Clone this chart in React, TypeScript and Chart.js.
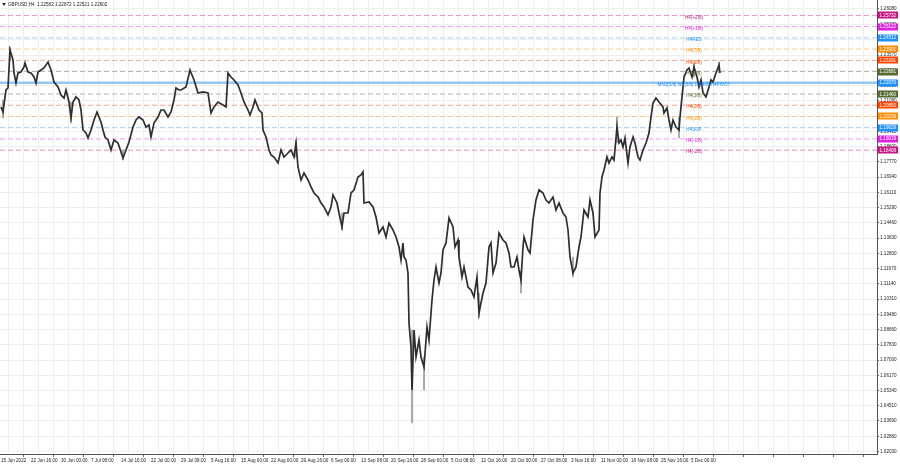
import React, { useEffect, useRef } from 'react';
import { Chart, registerables } from 'chart.js';

Chart.register(...registerables);

// ---- price path (H4 bar index -> close) ----
const barIndex = [0,2,5,7,9,12,13,15,17,20,23,24,27,30,33,35,37,40,43,47,50,53,57,60,63,65,68,70,72,75,78,80,82,85,87,90,93,96,98,100,102,104,107,110,113,117,120,122,125,128,132,135,138,142,145,148,150,153,157,160,163,167,170,173,175,178,180,185,189,193,197,202,207,210,213,217,222,225,227,230,233,237,240,243,247,249,252,254,258,261,262,265,268,270,273,277,280,283,287,290,293,295,297,300,303,307,310,313,317,320,323,327,330,332,336,338,341,343,347,350,353,357,360,362,363,368,372,375,378,382,385,388,392,395,398,400,402,403,405,407,408,410,411,413,415,418,420,423,426,428,431,433,435,438,440,442,445,448,452,454,457,458,461,463,467,470,473,476,478,482,485,488,490,492,495,498,502,505,508,510,513,516,518,520,522,523,527,529,532,535,538,542,545,548,552,555,558,562,565,567,569,572,575,578,580,583,587,589,592,594,598,599,601,603,606,608,611,613,616,618,620,622,624,627,629,632,634,637,639,642,645,648,650,652,655,658,662,663,666,668,670,672,675,678,679,681,683,686,688,691,693,696,698,700,702,705,708,710,712,715,718,719];

const closePrices = [1.20755,1.20483,1.21679,1.21787,1.23853,1.23309,1.22602,1.22059,1.22602,1.22657,1.22929,1.23146,1.22657,1.22602,1.22385,1.22059,1.22657,1.22766,1.22874,1.23200,1.22766,1.22113,1.21842,1.21407,1.21244,1.21679,1.21026,1.20157,1.21026,1.21298,1.21135,1.20592,1.19505,1.19341,1.19070,1.19505,1.20048,1.20483,1.20211,1.19939,1.19505,1.19124,1.18961,1.18418,1.18961,1.18798,1.18309,1.17983,1.18418,1.18852,1.19668,1.20048,1.20211,1.20048,1.19668,1.19776,1.19124,1.19885,1.20211,1.20592,1.20592,1.20211,1.20483,1.21135,1.21787,1.21679,1.21679,1.21842,1.22766,1.22222,1.21515,1.21570,1.21515,1.20428,1.20755,1.21026,1.20863,1.20755,1.22602,1.22385,1.22222,1.21950,1.21515,1.21026,1.20592,1.20320,1.20755,1.21135,1.20592,1.20428,1.19505,1.19124,1.18418,1.18146,1.18037,1.17711,1.18418,1.18037,1.18254,1.18418,1.18037,1.18798,1.17494,1.16787,1.17167,1.16787,1.16407,1.16080,1.15863,1.15537,1.15320,1.14885,1.15320,1.15972,1.15537,1.14993,1.14233,1.14993,1.14993,1.16080,1.16244,1.16950,1.17059,1.17222,1.15537,1.15591,1.15320,1.14776,1.13906,1.14233,1.13689,1.14450,1.14070,1.13689,1.13146,1.12439,1.13363,1.12602,1.12439,1.11732,1.09015,1.07711,1.05374,1.08635,1.07167,1.08090,1.07167,1.06624,1.08798,1.08090,1.10265,1.11352,1.12059,1.11189,1.11732,1.12983,1.13363,1.14722,1.14233,1.13146,1.13526,1.12602,1.11515,1.12059,1.10972,1.10809,1.10428,1.11515,1.09558,1.10645,1.11189,1.13146,1.13363,1.11732,1.12276,1.13906,1.13526,1.13363,1.12819,1.12059,1.12059,1.12602,1.11896,1.11352,1.13146,1.13689,1.12983,1.12819,1.14613,1.15700,1.16244,1.16080,1.15700,1.15537,1.15863,1.15157,1.15537,1.14993,1.14776,1.14070,1.12602,1.11732,1.12059,1.13146,1.13689,1.15157,1.14776,1.15700,1.14993,1.13689,1.14070,1.16080,1.16950,1.17331,1.18037,1.17711,1.18037,1.17874,1.19668,1.18798,1.18961,1.18581,1.19070,1.17711,1.18581,1.19124,1.18798,1.18037,1.17874,1.18418,1.18798,1.19341,1.20211,1.20972,1.21244,1.21026,1.20755,1.20428,1.20700,1.20048,1.19505,1.20048,1.19668,1.19505,1.20211,1.21298,1.22385,1.22766,1.22874,1.22385,1.22929,1.22385,1.21842,1.22222,1.21515,1.21298,1.21842,1.22222,1.22113,1.22602,1.23037,1.22602];

// notable wicks (bar index, low, high)
const wickBar = [2,9,70,122,295,341,411,423,478,520,572,616,678,693,718];
const wickLow = [1.20157,1.23309,1.19939,1.17874,1.18037,1.14070,1.03580,1.05374,1.09287,1.10645,1.11515,1.18798,1.19070,1.22385,1.22602];
const wickHigh = [1.21135,1.24016,1.21026,1.18418,1.18961,1.14993,1.08635,1.07167,1.10645,1.11896,1.12602,1.20211,1.20211,1.23146,1.23200];

// ---- axes ----
const priceTicks = [1.02030,1.02860,1.03690,1.04510,1.05340,1.06170,1.07000,1.07830,1.08660,1.09480,1.10310,1.11140,1.11970,1.12800,1.13630,1.14460,1.15290,1.16110,1.16940,1.17770,1.18600,1.19420,1.20250,1.21080,1.21910,1.22740,1.23570,1.24400,1.25230,1.26080];
const timeLabels = ['15 Jun 2022','22 Jun 16:00','30 Jun 00:00','7 Jul 08:00','14 Jul 16:00','22 Jul 00:00','29 Jul 08:00','5 Aug 16:00','15 Aug 00:00','22 Aug 00:00','29 Aug 16:00','6 Sep 00:00','13 Sep 08:00','20 Sep 16:00','28 Sep 00:00','5 Oct 08:00','12 Oct 16:00','20 Oct 00:00','27 Oct 08:00','3 Nov 16:00','11 Nov 00:00','18 Nov 08:00','25 Nov 16:00','5 Dec 00:00'];
const barsPerLabel = 30;
const barsPerGrid = 15;
const xMin = -1;
const xMax = 876;
const yMin = 1.01895;
const yMax = 1.26569;

// ---- Murrey levels ----
const levelNames = ['H4(+2/8)','H4(+1/8)','H4RES','H4(7/8)','H4(6/8)','H4(5/8)','MN1[5/8] W1[5/8] D1[4/8] H4PIVOT','H4(3/8)','H4(2/8)','H4(1/8)','H4SUP','H4(-1/8)','H4(-2/8)'];
const levelPrices = [1.25732,1.25122,1.24512,1.23901,1.23291,1.22681,1.22070,1.21460,1.20850,1.20239,1.19629,1.19019,1.18408];
const levelColors = ['#c71585','#e020e0','#1e90ff','#ff8c00','#ff4500','#556b2f','#1e90ff','#556b2f','#ff4500','#ff8c00','#1e90ff','#e020e0','#c71585'];
const levelLineColors = ['#ee8ec4','#f29af2','#a9cdf5','#fbc98e','#f7a58e','#b5b5a8','#93c8f3','#b5b5a8','#f7a58e','#fbc98e','#a9cdf5','#f29af2','#ee8ec4'];
const levelLabelBar = 693;

const title = 'GBPUSD,H4  1.22582 1.22872 1.22521 1.22602';

const FONT = '"Liberation Sans", Arial, sans-serif';

const overlay = {
  id: 'overlay',
  afterDatasetsDraw(chart: any) {
    const { ctx } = chart;
    const xs = chart.scales.x;
    const ys = chart.scales.y;
    ctx.save();
    ctx.font = `4.6px ${FONT}`;
    ctx.textAlign = 'center';
    ctx.textBaseline = 'middle';
    const cx = xs.getPixelForValue(levelLabelBar);
    levelNames.forEach((n, i) => {
      ctx.fillStyle = levelColors[i];
      ctx.fillText(n, cx, ys.getPixelForValue(levelPrices[i]) + 2);
    });
    ctx.restore();
  },
  afterDraw(chart: any) {
    const { ctx } = chart;
    const ys = chart.scales.y;
    ctx.save();
    ctx.font = `4.6px ${FONT}`;
    ctx.textBaseline = 'middle';
    ctx.textAlign = 'left';
    levelPrices.forEach((p, i) => {
      const y = ys.getPixelForValue(p);
      ctx.fillStyle = levelColors[i];
      ctx.fillRect(ys.left + 1, Math.round(y) - 3.5, 20, 7);
      ctx.fillStyle = '#ffffff';
      ctx.fillText(p.toFixed(5), ys.left + 2.5, y + 0.3);
    });
    // title
    ctx.fillStyle = '#333';
    ctx.beginPath();
    ctx.moveTo(2, 3);
    ctx.lineTo(6, 3);
    ctx.lineTo(4, 6);
    ctx.closePath();
    ctx.fill();
    ctx.fillStyle = '#222';
    ctx.font = `4.6px ${FONT}`;
    ctx.fillText(title, 8, 4.6);
    ctx.restore();
  },
};

export default function App() {
  const ref = useRef<HTMLCanvasElement>(null);
  useEffect(() => {
    if (!ref.current) return;
    const levelDatasets = levelPrices.map((p, i) => ({
      type: 'line' as const,
      data: [{ x: xMin, y: p }, { x: xMax, y: p }],
      borderColor: levelLineColors[i],
      borderWidth: i === 6 ? 2.5 : 1,
      borderDash: i === 6 ? [] : [5, 3],
      pointRadius: 0,
      order: 10,
    }));
    const chart = new Chart(ref.current, {
      type: 'line',
      data: {
        datasets: [
          {
            type: 'line',
            data: barIndex.map((b, i) => ({ x: b, y: closePrices[i] })),
            borderColor: '#2e2e2e',
            borderWidth: 1.7,
            pointRadius: 0,
            tension: 0,
            order: 0,
          },
          {
            type: 'bar',
            data: wickBar.map((b, i) => ({ x: b, y: [wickLow[i], wickHigh[i]] })),
            backgroundColor: '#9a9a9a',
            barThickness: 1,
            order: 1,
          } as any,
          ...levelDatasets,
        ],
      },
      options: {
        animation: false,
        responsive: false,
        devicePixelRatio: 1,
        layout: { padding: 0 },
        plugins: { legend: { display: false }, tooltip: { enabled: false } },
        scales: {
          x: {
            type: 'linear',
            min: xMin,
            max: xMax,
            offset: false,
            afterBuildTicks: (s: any) => {
              const t = [];
              for (let v = 0; v <= xMax; v += barsPerGrid) t.push({ value: v });
              s.ticks = t;
            },
            afterFit: (s: any) => {
              s.height = 14;
              s.paddingLeft = 0;
              s.paddingRight = 0;
            },
            ticks: {
              autoSkip: false,
              maxRotation: 0,
              minRotation: 0,
              align: 'start',
              padding: 1,
              color: '#222',
              font: { size: 4.6, family: FONT },
              callback: (v: any) => {
                const n = Number(v);
                if (n % barsPerLabel !== 0) return '';
                return timeLabels[n / barsPerLabel] ?? '';
              },
            },
            grid: {
              color: '#efefef',
              lineWidth: 1,
              drawTicks: true,
              tickLength: 3,
              tickColor: (c: any) => (c.tick && c.tick.value % barsPerLabel === 0 ? '#666' : 'rgba(0,0,0,0)'),
            },
            border: { display: true, color: '#555', width: 1 },
          },
          y: {
            type: 'linear',
            position: 'right',
            min: yMin,
            max: yMax,
            afterBuildTicks: (s: any) => {
              s.ticks = priceTicks.map((v) => ({ value: v }));
            },
            afterFit: (s: any) => {
              s.width = 23;
              s.paddingTop = 0;
              s.paddingBottom = 0;
            },
            ticks: {
              autoSkip: false,
              padding: 1,
              color: '#222',
              font: { size: 4.6, family: FONT },
              callback: (v: any) => Number(v).toFixed(5),
            },
            grid: {
              color: '#efefef',
              lineWidth: 1,
              drawTicks: true,
              tickLength: 2,
              tickColor: '#666',
            },
            border: { display: true, color: '#555', width: 1 },
          },
        },
      },
      plugins: [overlay],
    } as any);
    return () => chart.destroy();
  }, []);
  return (
    <div style={{ position: 'fixed', left: 0, top: 0, width: 900, height: 468, background: '#fff' }}>
      <canvas ref={ref} width={900} height={468} style={{ width: 900, height: 468, display: 'block' }} />
    </div>
  );
}
